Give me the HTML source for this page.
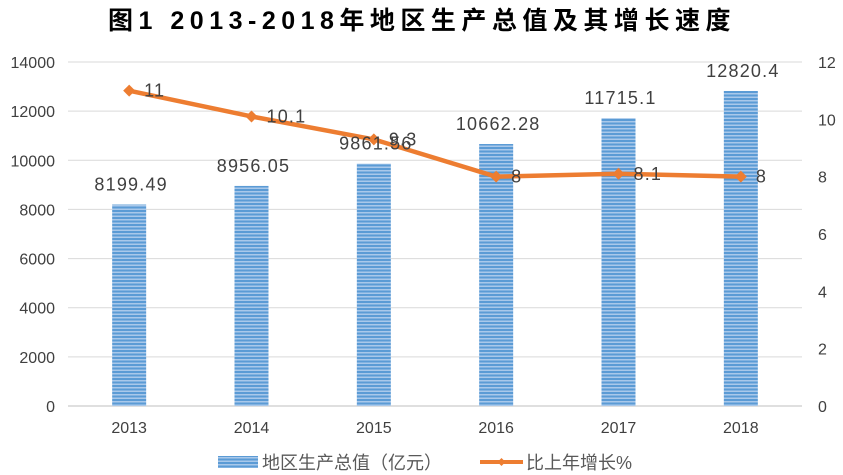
<!DOCTYPE html>
<html><head><meta charset="utf-8"><style>
body{margin:0;background:#fff;}
svg{display:block;font-family:"Liberation Sans","Noto Sans CJK SC",sans-serif;}
</style></head><body>
<svg id="c" width="843" height="475" viewBox="0 0 843 475">
<defs>
<pattern id="stripe" width="4" height="3.5" patternUnits="userSpaceOnUse">
<rect width="4" height="3.5" fill="#a9c8ea"/>
<rect y="0" width="4" height="2" fill="#5b9bd5"/>
</pattern>
</defs>
<text x="422" y="29" text-anchor="middle" font-size="25" font-weight="bold" fill="#000" letter-spacing="5.5">图1  2013-2018年地区生产总值及其增长速度</text>
<g id="grid"></g><g id="bars"></g><g id="line"></g><g id="labels"></g>
<g>
<rect x="218" y="456" width="40" height="12" fill="url(#stripe)"/>
<text x="262" y="469" font-size="18" fill="#595959">地区生产总值（亿元）</text>
<line x1="480" y1="462" x2="523" y2="462" stroke="#ed7d31" stroke-width="4"/>
<path d="M501.5 458 L505.5 462 L501.5 466 L497.5 462Z" fill="#ed7d31"/>
<text x="526" y="469" font-size="18" fill="#595959">比上年增长%</text>
</g>
</svg>
<script>
const years=["2013","2014","2015","2016","2017","2018"];
const gdp=[8199.49,8956.05,9861.56,10662.28,11715.1,12820.4];
const gdpLabels=["8199.49","8956.05","9861.56","10662.28","11715.1","12820.4"];
const growth=[11,10.1,9.3,8,8.1,8];
const leftTicks=[0,2000,4000,6000,8000,10000,12000,14000];
const rightTicks=[0,2,4,6,8,10,12];
const NS="http://www.w3.org/2000/svg";
const x0=68,x1=802,yb=406,yt=62;
const xs=i=>x0+(x1-x0)/years.length*(i+0.5);
const yl=v=>yb-(v/14000)*(yb-yt);
const yr=v=>yb-(v/12)*(yb-yt);
function mk(tag,attrs,parent){const e=document.createElementNS(NS,tag);for(const k in attrs)e.setAttribute(k,attrs[k]);document.getElementById(parent).appendChild(e);return e;}
leftTicks.forEach(t=>{
 const l=mk("line",{x1:x0,x2:x1,y1:yl(t),y2:yl(t),stroke:t===0?"#bfbfbf":"#d9d9d9","stroke-width":1},"grid");
 
 
 const tx=mk("text",{x:55,y:yl(t)+6,"text-anchor":"end","font-size":16,fill:"#404040"},"grid");tx.textContent=t;
 
 
});
rightTicks.forEach(t=>{
 const tx=mk("text",{x:818,y:yr(t)+6,"font-size":16,fill:"#404040"},"grid");tx.textContent=t;
 
 
});
years.forEach((y,i)=>{
 const tx=mk("text",{x:xs(i),y:433,"text-anchor":"middle","font-size":16,fill:"#404040"},"grid");tx.textContent=y;
 
 
 const b=mk("rect",{x:xs(i)-17,y:yl(gdp[i]),width:34,height:yb-yl(gdp[i]),fill:"url(#stripe)"},"bars");
 
 
 const bl=mk("text",{x:xs(i)+2,y:yl(gdp[i])-14,"text-anchor":"middle","font-size":18,"letter-spacing":1.2,fill:"#404040"},"labels");bl.textContent=gdpLabels[i];
 
 
});
const pts=growth.map((g,i)=>xs(i)+","+yr(g)).join(" ");
const pl=mk("polyline",{points:pts,fill:"none",stroke:"#ed7d31","stroke-width":4.5,"stroke-linejoin":"round"},"line");


growth.forEach((g,i)=>{
 const cx=xs(i),cy=yr(g);
 const m=mk("path",{d:`M${cx} ${cy-6} L${cx+6} ${cy} L${cx} ${cy+6} L${cx-6} ${cy}Z`,fill:"#ed7d31"},"line");
 
 
 const t=mk("text",{x:cx+15,y:cy+6,"font-size":18,"letter-spacing":1.2,fill:"#404040"},"labels");t.textContent=g;
 
 
});
</script>
</body></html>
